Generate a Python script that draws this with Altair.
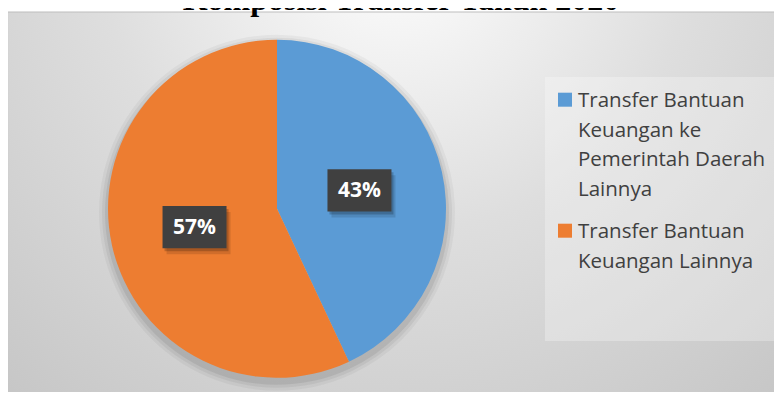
import math
import altair as alt
import pandas as pd

# ---- data ----
kategori = [
    "Transfer Bantuan Keuangan ke Pemerintah Daerah Lainnya",
    "Transfer Bantuan Keuangan Lainnya",
]
nilai = [43, 57]
label_legenda = [
    "Transfer Bantuan\nKeuangan ke\nPemerintah Daerah\nLainnya",
    "Transfer Bantuan\nKeuangan Lainnya",
]
warna = ["#5B9BD5", "#ED7D31"]
judul = "Komposisi Transfer Tahun 2020"

# derived table
total = sum(nilai)
rows = []
cum = 0.0
for i, (k, v, lg) in enumerate(zip(kategori, nilai, label_legenda)):
    mid = (cum + v / 2) / total * 2 * math.pi
    cum += v
    rows.append({
        "kategori": k,
        "nilai": v,
        "urut": i,
        "teks": f"{round(v / total * 100)}%",
        "legenda": lg,
        "lx": math.sin(mid) * 0.5,
        "ly": -math.cos(mid) * 0.5,
    })
df = pd.DataFrame(rows)

W, H = 766, 384
CX, CY, R = 269, 200.8, 169

base = alt.Chart(df)
color = alt.Color("kategori:N", scale=alt.Scale(domain=kategori, range=warna), legend=None)

# background with radial gradient
bg = alt.Chart(pd.DataFrame({"a": [0]})).mark_rect(
    color={
        "gradient": "radial",
        "x1": 0.5, "y1": 0.15, "r1": 0.0,
        "x2": 0.5, "y2": 0.15, "r2": 0.85,
        "stops": [
            {"offset": 0.0, "color": "#ffffff"},
            {"offset": 0.45, "color": "#dedede"},
            {"offset": 1.0, "color": "#c2c2c2"},
        ],
    },
    stroke="#bdbdbd",
    strokeWidth=1.2,
).encode(x=alt.value(-0.5), x2=alt.value(W + 10), y=alt.value(4), y2=alt.value(H + 10))

title = alt.Chart(pd.DataFrame({"t": [judul]})).mark_text(
    font="Liberation Serif", fontWeight="bold", fontSize=32, color="#000000",
    baseline="alphabetic", align="center",
).encode(text="t:N", x=alt.value(393), y=alt.value(1.5))

# pie shadow
shadows = []
for rr, op in [(178, 0.04), (175, 0.05), (172, 0.07)]:
    shadows.append(
        base.mark_arc(radius=rr, color="#000000", opacity=op).encode(
            theta=alt.Theta("nilai:Q", stack=True),
            order=alt.Order("urut:Q"),
            x=alt.value(CX), y=alt.value(CY + 4),
        )
    )

pie = base.mark_arc(radius=R).encode(
    theta=alt.Theta("nilai:Q", stack=True),
    order=alt.Order("urut:Q"),
    color=color,
    x=alt.value(CX), y=alt.value(CY),
)

xs = alt.Scale(domain=[-1, 1], range=[CX - R, CX + R])
ys = alt.Scale(domain=[-1, 1], range=[CY - R, CY + R])
lx = alt.X("lx:Q", scale=xs, axis=None)
ly = alt.Y("ly:Q", scale=ys, axis=None)
box_shape = "M-1,-0.66H1V0.66H-1Z"

box_sh1 = base.mark_point(shape=box_shape, filled=True, size=64 * 64, color="#000000",
                          opacity=0.12, xOffset=4, yOffset=6).encode(x=lx, y=ly)
box_sh2 = base.mark_point(shape=box_shape, filled=True, size=64 * 64, color="#000000",
                          opacity=0.2, xOffset=2, yOffset=3).encode(x=lx, y=ly)
box = base.mark_point(shape=box_shape, filled=True, size=64 * 64, color="#404040",
                      opacity=1).encode(x=lx, y=ly)
lbl = base.mark_text(font="Open Sans", fontWeight="bold", fontSize=21, color="#ffffff",
                     align="center", baseline="middle", dy=1).encode(x=lx, y=ly, text="teks:N")

# legend
leg_bg = alt.Chart(pd.DataFrame({"a": [0]})).mark_rect(color="#ffffff", opacity=0.28).encode(
    x=alt.value(537), x2=alt.value(770), y=alt.value(69), y2=alt.value(333)
)
ly_leg = alt.Y("kategori:N", scale=alt.Scale(type="point", domain=kategori, range=[99.3, 230.3], padding=0), axis=None)
leg_sym = base.mark_square(size=14 * 14, opacity=1, yOffset=-7.6).encode(
    x=alt.value(557), y=ly_leg, color=color
)
leg_txt = base.mark_text(
    font="Open Sans", fontSize=20.5, color="#404040", align="left", baseline="alphabetic",
    lineBreak="\n", lineHeight=29.5,
).encode(x=alt.value(570), y=ly_leg, text="legenda:N")

chart = alt.layer(
    bg, title, *shadows, pie, box_sh1, box_sh2, box, lbl, leg_bg, leg_sym, leg_txt
).resolve_scale(y="independent", x="independent").properties(
    width=W, height=H, padding=0, autosize="none", background="#ffffff"
).configure_view(stroke=None)

chart.save("out.html", embed_options={"renderer": "svg", "actions": False})
